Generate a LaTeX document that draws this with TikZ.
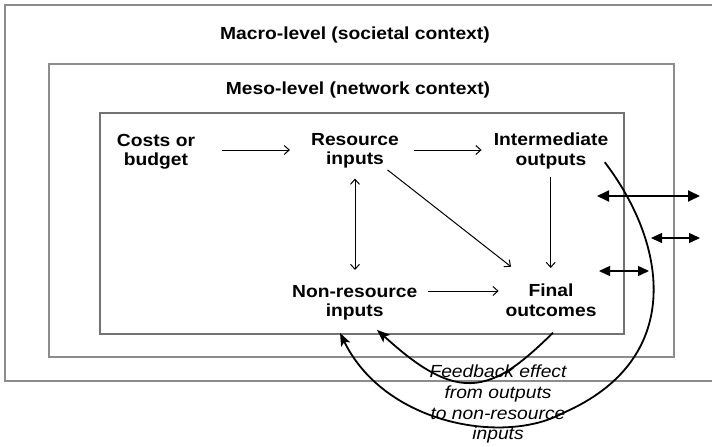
\documentclass[tikz,border=0pt]{standalone}
\usepackage{fontspec}
\setmainfont{Liberation Sans}[FakeStretch=1.1]
\usetikzlibrary{arrows.meta,calc}
\begin{document}
\begin{tikzpicture}[x=1pt,y=-1pt,
  boxline/.style={draw=black!45,line width=1.1pt},
  title/.style={font=\fontsize{17.5}{19.5}\selectfont\bfseries,anchor=north,inner sep=0pt},
  lbl/.style={font=\fontsize{17.5}{19.5}\selectfont\bfseries,align=center,anchor=north,inner sep=0pt},
  fbtext/.style={font=\fontsize{17.5}{20.7}\selectfont\itshape,align=center,anchor=north,inner sep=0pt},
  thin/.style={line width=1pt,-{Straight Barb[length=5pt,width=9pt]}},
  thinboth/.style={line width=1pt,{Straight Barb[length=5pt,width=9pt]}-{Straight Barb[length=5pt,width=9pt]}},
  fb/.style={line width=1.8pt,-{Stealth[length=13pt,width=10pt,inset=3pt]}},
  dbl/.style={line width=1.8pt,{Triangle[length=12pt,width=11pt]}-{Triangle[length=12pt,width=11pt]}},
  dblsmall/.style={line width=1.4pt,{Triangle[length=11pt,width=10pt]}-{Triangle[length=11pt,width=10pt]}}]
\useasboundingbox (0,0) rectangle (712,447);
% boxes
\draw[boxline] (5,5) rectangle (713,381);
\draw[boxline] (49,64) rectangle (674,357);
\draw[boxline,draw=black!55] (100,113) rectangle (624,334);
% titles
\node[title] (macro) at (355,26.5) {Macro-level (societal context)};
\node[title] (meso) at (358,81.5) {Meso-level (network context)};
% nodes
\node[lbl] (costs) at (156,134) {Costs or\\budget};
\node[lbl] (res) at (355,133) {Resource\\inputs};
\node[lbl] (inter) at (551,133) {Intermediate\\outputs};
\node[lbl] (non) at (354.7,285) {Non-resource\\inputs};
\node[lbl] (final) at (551,284) {Final\\outcomes};
\node[fbtext] (fbt) at (498,365) {Feedback effect\\from outputs\\to non-resource\\inputs};
% thin arrows
\draw[thin] ($(costs.north east)+(26.7,16)$) -- ($(res.north west)+(-21,17)$);
\draw[thin] ($(res.north east)+(14.7,17)$) -- ($(inter.north west)+(-12,17)$);
\draw[thinboth] ($(res.south)+(0,10)$) -- ($(non.north)+(0.3,-15)$);
\draw[thin] ($(res.south east)+(-11.6,1.3)$) -- ($(final.north west)+(5.7,-17.3)$);
\draw[thin] ($(inter.south)+(-0.3,8)$) -- ($(final.north)+(-0.3,-16)$);
\draw[thin] ($(non.north east)+(11,6)$) -- ($(final.north west)+(-6.7,7)$);
% double arrows across the boundaries
\coordinate (a1) at (597,196); \coordinate (b1) at (700,196);
\coordinate (a2) at (651,238); \coordinate (b2) at (700,238);
\coordinate (a3) at (599,271); \coordinate (b3) at (649,271);
\draw[dbl] (a1) -- (b1);
\draw[dblsmall] (a2) -- (b2);
\draw[dblsmall] (a3) -- (b3);
% feedback curves
\draw[fb] ($(final.south)+(2,16)$) .. controls (520,365) and (495,385) .. (465,383)
   .. controls (435,381) and (405,355) .. ($(non.south)+(22.3,9.3)$);
\draw[fb] ($(inter.south east)+(-3.7,-7)$) .. controls (668,245) and (685,360) .. (563,413)
   .. controls (505,445) and (385,425) .. ($(non.south)+(-14.7,12.3)$);
\end{tikzpicture}
\end{document}
